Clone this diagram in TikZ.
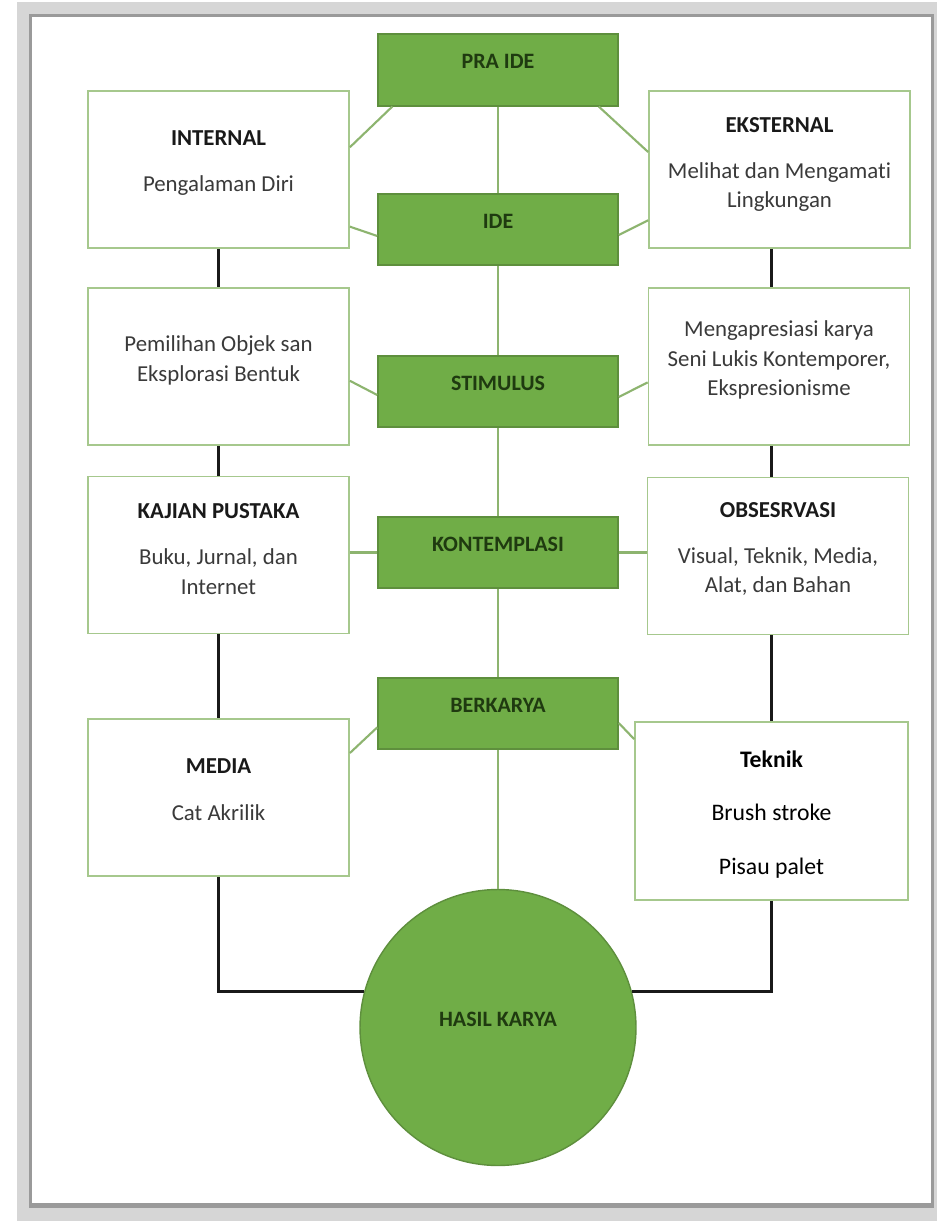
\documentclass[tikz,border=0pt]{standalone}
\usepackage{fontspec}
\setmainfont{Carlito}[Ligatures=NoCommon]
\usetikzlibrary{calc}

\definecolor{kgreen}{HTML}{70AD47}
\definecolor{kgreenline}{HTML}{5E8F3D}
\definecolor{kgreentext}{HTML}{1F3A10}
\definecolor{klink}{HTML}{8DB46F}
\definecolor{kboxline}{HTML}{A6C88D}
\definecolor{kbody}{HTML}{3A3A3A}
\definecolor{kshadow}{HTML}{D6D6D6}
\definecolor{kframe}{HTML}{9A9A9A}

\newcommand{\judul}[1]{{\color{black!90}\bfseries #1}}

\tikzset{
  tahap/.style={draw=kgreenline, fill=kgreen, line width=0.9pt, minimum width=4.8cm,
    minimum height=1.43cm, inner sep=0pt, font=\fontsize{12.5}{15}\selectfont\bfseries,
    text=kgreentext, text height=0.3cm, text depth=0.34cm},
  sumber/.style={draw=kboxline, fill=white, line width=1pt, minimum width=5.22cm,
    minimum height=3.14cm, inner sep=0pt},
  isi/.style={align=center, inner sep=0pt, font=\fontsize{13}{16.8}\selectfont, text=kbody},
  alur/.style={klink, line width=1.2pt},
  garis/.style={black!90, line width=1.9pt},
}

\begin{document}
\begin{tikzpicture}[x=0.02cm, y=-0.02cm]
  \useasboundingbox (0,0) rectangle (938,1222);
  % page with shadow
  \fill[kshadow] (17,2) rectangle (937,1221);
  \fill[kframe] (29,14) rectangle (934,1208);
  \fill[white] (32,17) rectangle (931,1203);

  % middle column
  \node[tahap] (praide) at (498,70) {PRA IDE};
  \node[tahap] (ide) at (498,229.5) {IDE};
  \node[tahap] (stimulus) at (498,391.5) {STIMULUS};
  \node[tahap] (kontemplasi) at (498,552.5) {KONTEMPLASI};
  \node[tahap] (berkarya) at (498,713.5) {BERKARYA};
  \node[circle, draw=kgreenline, fill=kgreen, line width=0.8pt, minimum size=5.52cm,
    inner sep=0pt, font=\fontsize{12.5}{15}\selectfont\bfseries, text=kgreentext,
    text height=0.3cm, text depth=0.34cm] (hasil) at (498,1027.5) {HASIL KARYA};

  % side boxes
  \node[sumber] (internal) at (218.5,169.5) {};
  \node[sumber] (eksternal) at (779.5,169.5) {};
  \node[sumber] (objek) at (218.5,366.5) {};
  \node[sumber] (apresiasi) at (779,366.5) {};
  \node[sumber] (kajian) at (218.5,555) {};
  \node[sumber] (observasi) at (778,556) {};
  \node[sumber] (media) at (218.5,797.5) {};
  \node[sumber, minimum width=5.46cm, minimum height=3.56cm] (teknik) at (771.5,811) {};

  \node[isi] (internal-t) at ([yshift=.12cm]internal.center) {\judul{INTERNAL}\\[.33cm] Pengalaman Diri};
  \node[isi] (eksternal-t) at ([yshift=.1cm]eksternal.center) {\judul{EKSTERNAL}\\[.33cm] Melihat dan Mengamati\\ Lingkungan};
  \node[isi] (objek-t) at ([yshift=.12cm]objek.center) {Pemilihan Objek san\\ Eksplorasi Bentuk};
  \node[isi] (apresiasi-t) at ([yshift=.13cm]apresiasi.center) {Mengapresiasi karya\\ Seni Lukis Kontemporer,\\ Ekspresionisme};
  \node[isi] (kajian-t) at ([yshift=.12cm]kajian.center) {\judul{KAJIAN PUSTAKA}\\[.33cm] Buku, Jurnal, dan\\ Internet};
  \node[isi] (observasi-t) at ([yshift=.14cm]observasi.center) {\judul{OBSESRVASI}\\[.33cm] Visual, Teknik, Media,\\ Alat, dan Bahan};
  \node[isi] (media-t) at ([yshift=.16cm]media.center) {\judul{MEDIA}\\[.36cm] Cat Akrilik};
  \node[isi, text=black, font=\fontsize{13.5}{17}\selectfont] (teknik-t) at ([yshift=-.07cm]teknik.center)
    {\textbf{Teknik}\\[.47cm] Brush stroke\\[.47cm] Pisau palet};

  % green links
  \draw[alur] (praide) -- (ide) -- (stimulus) -- (kontemplasi) -- (berkarya) -- (hasil);
  \draw[alur] ($(praide.south west)!.0625!(praide.south east)$) -- ($(internal.north east)!.36!(internal.south east)$);
  \draw[alur] ([yshift=-.13cm]ide.west) -- ($(internal.north east)!.86!(internal.south east)$);
  \draw[alur] ($(praide.south west)!.917!(praide.south east)$) -- ($(eksternal.north west)!.39!(eksternal.south west)$);
  \draw[alur] ([yshift=-.11cm]ide.east) -- ($(eksternal.north west)!.82!(eksternal.south west)$);
  \draw[alur] ([yshift=-.07cm]stimulus.west) -- ($(objek.north east)!.59!(objek.south east)$);
  \draw[alur] ([yshift=-.11cm]stimulus.east) -- ($(apresiasi.north west)!.6!(apresiasi.south west)$);
  \draw[alur] (kontemplasi.west) -- (kontemplasi.west -| kajian.east);
  \draw[alur] (kontemplasi.east) -- (kontemplasi.east -| observasi.west);
  \draw[alur] ($(berkarya.north west)!.69!(berkarya.south west)$) -- ($(media.north east)!.22!(media.south east)$);
  \draw[alur] ($(berkarya.north east)!.63!(berkarya.south east)$) -- ($(teknik.north west)!.1!(teknik.south west)$);

  % black links
  \draw[garis] (internal) -- (objek);
  \draw[garis] (objek) -- (kajian);
  \draw[garis] (kajian) -- (media);
  \draw[garis] (media.south) |- (hasil.165);
  \draw[garis] (eksternal.south -| teknik.south) -- (apresiasi.north -| teknik.south);
  \draw[garis] (apresiasi.south -| teknik.south) -- (observasi.north -| teknik.south);
  \draw[garis] (observasi.south -| teknik.south) -- (teknik.north);
  \draw[garis] (teknik.south) |- (hasil.15);
\end{tikzpicture}
\end{document}
